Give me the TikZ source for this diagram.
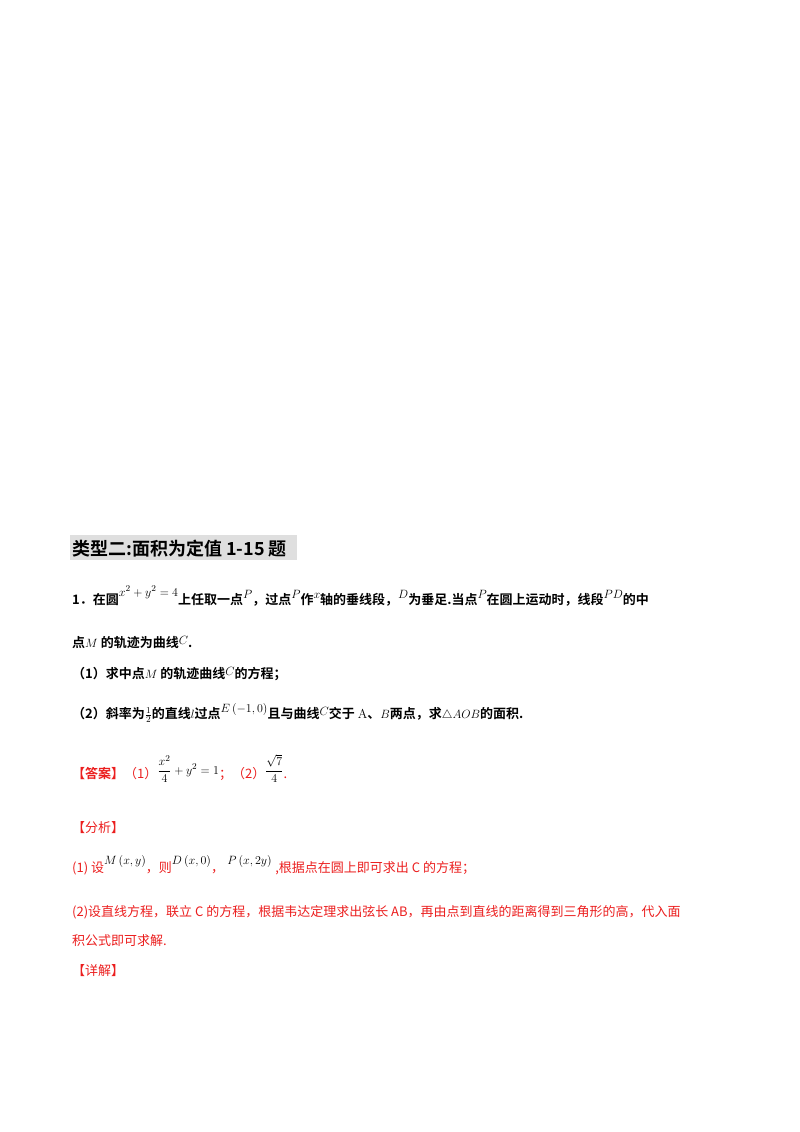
\documentclass[tikz,border=0pt]{standalone}
\usepackage{amsmath}
\usepackage{fontspec}
\newfontfamily\cjk{Noto Sans CJK SC}
\newfontfamily\cjkb{Noto Sans CJK SC Bold}
\definecolor{ared}{RGB}{235,30,30}
\newcommand{\rz}[2]{\raisebox{#1}{$#2$}}
\begin{document}
\begin{tikzpicture}[x=1pt,y=-1pt,
  txt/.style={anchor=base west,inner sep=0pt,font=\fontsize{13}{15}\selectfont\cjkb},
  rtxt/.style={anchor=base west,inner sep=0pt,text=ared,font=\fontsize{13}{15}\selectfont\cjk}]
\useasboundingbox (0,0) rectangle (800,1132);
\fill[gray!25] (70,535) rectangle (297,560);
\node[anchor=base west,inner sep=0pt,font=\fontsize{18}{20}\selectfont\cjkb] (h) at (72,555) {类型二:面积为定值 1-15 题};
\node[txt] (l1) at (72,604) {1．在圆\rz{8pt}{x^2+y^2=4}上任取一点\rz{6pt}{P}，过点\rz{6pt}{P}作\rz{6pt}{x}轴的垂线段，\rz{6pt}{D}为垂足.当点\rz{6pt}{P}在圆上运动时，线段\rz{6pt}{PD}的中};
\node[txt] (l2) at (72,647) {点$M$ 的轨迹为曲线\rz{3pt}{C}.};
\node[txt] (l3) at (72,678) {（1）求中点$M$ 的轨迹曲线\rz{3pt}{C}的方程；};
\node[txt] (l4) at (72,718) {（2）斜率为$\frac{1}{2}$的直线$l$过点\rz{6pt}{E\left(-1,0\right)}且与曲线\rz{3pt}{C}交于 $\mathrm{A}$、$B$两点，求$\triangle AOB$的面积.};
\node[rtxt] (a) at (72,778) {\cjkb【答案】\cjk（1）\rz{4pt}{\color{black}\dfrac{x^2}{4}+y^2=1}；（2）\rz{4pt}{\color{black}\dfrac{\sqrt7}{4}}.};
\node[rtxt] (f) at (72,832) {【分析】};
\node[rtxt] (f1) at (72,872) {(1) 设\rz{8pt}{\color{black}M\left(x,y\right)}，则\rz{8pt}{\color{black}D\left(x,0\right)}，\rz{8pt}{\color{black}\;P\left(x,2y\right)}\;,根据点在圆上即可求出 C 的方程；};
\node[rtxt] (f2) at (72,916) {(2)设直线方程，联立 C 的方程，根据韦达定理求出弦长 AB，再由点到直线的距离得到三角形的高，代入面};
\node[rtxt] (f3) at (72,945) {积公式即可求解.};
\node[rtxt] (x) at (72,975) {【详解】};
\end{tikzpicture}
\end{document}
